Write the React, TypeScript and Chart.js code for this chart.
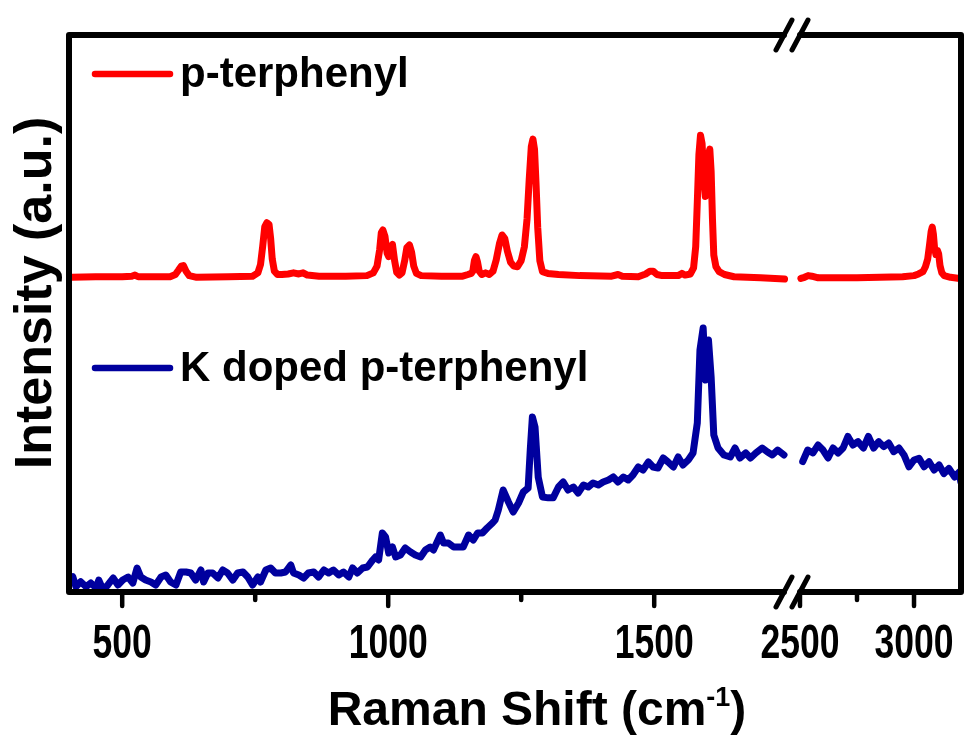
import React, { useEffect, useRef } from "react";
import { Chart, registerables } from "chart.js";

Chart.register(...registerables);

// ---------- data ----------
const SERIES_NAMES = ["p-terphenyl", "K doped p-terphenyl"];
const SERIES_COLORS = ["#FF0000", "#00009E"];

// p-terphenyl, low-wavenumber segment
const RED_LEFT_X = [405, 450, 500, 518, 524, 530, 590, 600, 606, 611, 615, 620, 626, 640, 700, 745, 755, 760, 764, 768, 772, 776, 779, 782, 786, 792, 800, 812, 822, 832, 840, 848, 870, 920, 960, 972, 979, 984, 987, 990, 994, 998, 1001, 1005, 1008, 1012, 1016, 1021, 1026, 1031, 1035, 1040, 1044, 1048, 1053, 1062, 1100, 1140, 1150, 1156, 1159, 1162, 1165, 1168, 1171, 1176, 1183, 1190, 1197, 1203, 1209, 1214, 1219, 1224, 1230, 1236, 1243, 1250, 1256, 1261, 1265, 1269, 1272, 1275, 1278, 1281, 1285, 1290, 1300, 1320, 1360, 1420, 1432, 1440, 1470, 1484, 1492, 1498, 1505, 1515, 1545, 1552, 1558, 1568, 1574, 1578, 1581, 1584, 1587, 1590, 1593, 1596, 1599, 1602, 1604.5, 1607, 1609.5, 1612, 1616, 1622, 1632, 1650, 1700, 1745];
const RED_LEFT_Y = [56.5, 56.6, 56.6, 56.7, 56.9, 56.6, 56.6, 57.0, 57.8, 58.5, 58.6, 57.6, 56.8, 56.5, 56.6, 56.7, 57.3, 58.8, 62.0, 65.6, 66.3, 66.0, 63.5, 59.8, 57.6, 57.0, 57.0, 57.1, 57.3, 57.1, 57.3, 56.9, 56.7, 56.7, 56.8, 57.3, 58.5, 61.5, 64.5, 65.0, 63.8, 60.8, 60.2, 62.0, 62.4, 59.5, 57.4, 56.9, 57.3, 59.5, 61.8, 62.3, 61.0, 58.5, 57.2, 56.8, 56.7, 56.7, 57.0, 57.2, 57.6, 59.5, 60.2, 59.2, 57.6, 57.0, 57.3, 57.0, 57.6, 59.6, 62.5, 64.1, 63.5, 61.2, 59.2, 58.5, 58.4, 59.5, 62.0, 67.0, 74.0, 80.0, 81.3, 79.5, 73.0, 65.5, 59.5, 57.5, 57.2, 57.0, 56.8, 56.7, 57.0, 56.7, 56.6, 57.1, 57.6, 57.6, 57.0, 56.8, 56.8, 57.2, 56.9, 57.1, 58.2, 62.0, 70.0, 78.5, 82.0, 80.5, 74.5, 71.0, 74.0, 78.5, 79.5, 75.5, 67.0, 60.5, 58.4, 57.5, 57.0, 56.6, 56.4, 56.2];

// p-terphenyl, high-wavenumber segment
const RED_RIGHT_X = [2504, 2520, 2536, 2552, 2580, 2650, 2750, 2850, 2950, 3000, 3020, 3039, 3050, 3060, 3068, 3075, 3080, 3085, 3090, 3096, 3103, 3108, 3114, 3122, 3132, 3160, 3200];
const RED_RIGHT_Y = [56.3, 56.5, 56.8, 56.7, 56.4, 56.4, 56.4, 56.5, 56.6, 56.8, 57.1, 57.5, 58.4, 59.8, 62.3, 64.7, 65.5, 64.2, 61.8, 60.6, 61.3, 60.7, 58.6, 57.3, 56.8, 56.5, 56.3];

// K doped p-terphenyl, low-wavenumber segment
const BLUE_LEFT_X = [407, 413, 422, 432, 441, 451, 456, 464, 473, 483, 492, 501, 511, 520, 528, 535, 544, 554, 563, 573, 582, 591, 601, 610, 620, 629, 638, 648, 653, 661, 670, 680, 689, 698, 708, 717, 727, 736, 745, 755, 760, 770, 779, 788, 798, 807, 817, 822, 832, 841, 850, 860, 869, 879, 888, 897, 907, 916, 926, 933, 942, 952, 961, 971, 976, 982, 989, 995, 1001, 1008, 1014, 1023, 1032, 1042, 1051, 1061, 1070, 1079, 1085, 1098, 1104, 1113, 1123, 1132, 1141, 1151, 1160, 1168, 1177, 1186, 1196, 1201, 1207, 1216, 1226, 1235, 1245, 1254, 1263, 1267, 1271, 1276, 1282, 1290, 1301, 1310, 1320, 1329, 1338, 1348, 1357, 1367, 1376, 1385, 1395, 1404, 1414, 1423, 1432, 1442, 1451, 1460, 1470, 1479, 1489, 1498, 1507, 1517, 1526, 1536, 1545, 1554, 1564, 1573, 1581, 1586, 1592, 1596.5, 1602, 1607, 1612, 1620, 1631, 1643, 1652, 1661, 1672, 1681, 1691, 1703, 1713, 1722, 1732, 1744];
const BLUE_LEFT_Y = [2.75, 0.95, 1.85, 0.95, 1.62, 0.72, 2.15, 0.36, 1.26, 2.51, 1.26, 2.15, 2.69, 1.62, 4.31, 2.69, 2.15, 1.8, 1.26, 2.69, 3.05, 1.8, 1.26, 3.59, 3.59, 3.41, 2.15, 3.95, 1.8, 3.41, 3.41, 2.51, 3.95, 3.41, 2.15, 3.41, 3.59, 2.69, 1.26, 2.69, 1.8, 3.95, 4.31, 3.41, 3.41, 3.59, 4.85, 3.41, 3.05, 2.51, 3.41, 3.59, 2.69, 3.95, 3.41, 3.95, 3.05, 3.59, 2.69, 4.31, 3.41, 4.31, 4.49, 5.75, 6.28, 5.75, 10.59, 9.87, 7.0, 8.08, 6.28, 6.64, 7.9, 7.18, 6.64, 6.28, 7.54, 8.08, 7.54, 10.23, 8.8, 8.8, 8.08, 8.08, 8.08, 10.23, 9.34, 10.59, 10.59, 11.49, 12.39, 12.93, 14.72, 18.31, 16.16, 14.36, 15.98, 17.95, 18.67, 25.5, 31.42, 29.6, 20.6, 17.06, 16.9, 16.9, 18.85, 19.75, 18.31, 18.85, 17.77, 19.21, 18.85, 19.57, 19.21, 19.75, 20.11, 20.65, 19.75, 20.65, 20.11, 21.01, 22.44, 21.9, 23.34, 22.44, 22.26, 24.06, 23.34, 22.44, 24.24, 22.8, 23.7, 24.96, 30.34, 43.45, 47.4, 38.06, 45.24, 38.6, 28.19, 25.85, 24.6, 24.24, 25.85, 24.06, 24.96, 24.06, 24.96, 25.85, 25.13, 24.6, 25.49, 24.6];

// K doped p-terphenyl, high-wavenumber segment
const BLUE_RIGHT_X = [2512, 2534, 2557, 2579, 2601, 2623, 2645, 2667, 2689, 2710, 2732, 2754, 2778, 2800, 2823, 2845, 2867, 2889, 2911, 2934, 2956, 2978, 3000, 3022, 3044, 3066, 3088, 3110, 3131, 3153, 3178, 3199, 3205];
const BLUE_RIGHT_Y = [23.43, 25.49, 24.96, 26.39, 25.49, 24.06, 25.85, 24.96, 25.85, 27.92, 26.39, 27.0, 25.85, 27.92, 25.85, 27.0, 26.1, 26.75, 25.19, 25.85, 24.6, 22.48, 23.7, 23.99, 22.48, 23.38, 21.9, 22.8, 21.26, 22.17, 20.65, 21.54, 19.8];

// axes
const LEFT_RANGE = [400, 1759];
const RIGHT_RANGE = [2465, 3206];
const LEFT_MAJOR = [500, 1000, 1500];
const LEFT_MINOR = [750, 1250];
const RIGHT_MAJOR = [2500, 3000];
const RIGHT_MINOR = [2750];
const Y_RANGE = [0, 100];
const X_TITLE_MAIN = "Raman Shift (cm";
const X_TITLE_SUP = "-1";
const X_TITLE_END = ")";
const Y_TITLE = "Intensity (a.u.)";

const FONT = "'Liberation Sans', Arial, Helvetica, sans-serif";

const zip = (xs: number[], ys: number[]) => xs.map((x, i) => ({ x, y: ys[i] }));

const framePlugin = {
  id: "brokenFrame",
  afterDatasetsDraw(chart: any) {
    const { ctx, chartArea } = chart;
    const { left, right, top, bottom } = chartArea;
    const x1 = chart.scales.x1;
    const x2 = chart.scales.x2;
    const bx = x1.right;
    const g = 8;
    ctx.save();
    ctx.strokeStyle = "#000";
    ctx.lineJoin = "round";
    ctx.lineCap = "round";
    ctx.lineWidth = 6;
    ctx.beginPath();
    ctx.moveTo(bx - g, top);
    ctx.lineTo(left, top);
    ctx.lineTo(left, bottom);
    ctx.lineTo(bx - g, bottom);
    ctx.moveTo(bx + g, top);
    ctx.lineTo(right, top);
    ctx.lineTo(right, bottom);
    ctx.lineTo(bx + g, bottom);
    ctx.stroke();
    // ticks
    ctx.lineWidth = 4.5;
    const drawTicks = (scale: any, vals: number[], len: number) => {
      vals.forEach((v) => {
        const px = scale.getPixelForValue(v);
        ctx.beginPath();
        ctx.moveTo(px, bottom);
        ctx.lineTo(px, bottom + len);
        ctx.stroke();
      });
    };
    drawTicks(x1, LEFT_MAJOR, 14);
    drawTicks(x1, LEFT_MINOR, 8);
    drawTicks(x2, RIGHT_MAJOR, 14);
    drawTicks(x2, RIGHT_MINOR, 8);
    // break marks
    ctx.lineWidth = 5;
    [top, bottom].forEach((y) => {
      [-g, g].forEach((dx) => {
        ctx.beginPath();
        ctx.moveTo(bx + dx - 8, y + 15);
        ctx.lineTo(bx + dx + 8, y - 15);
        ctx.stroke();
      });
    });
    // tick labels (condensed, as in the original figure)
    ctx.fillStyle = "#000";
    ctx.font = `bold 48px ${FONT}`;
    ctx.textAlign = "center";
    ctx.textBaseline = "alphabetic";
    const drawLabels = (scale: any, vals: number[]) => {
      vals.forEach((v) => {
        const px = scale.getPixelForValue(v);
        ctx.save();
        ctx.translate(px, bottom + 66);
        ctx.scale(0.74, 1);
        ctx.fillText(String(v), 0, 0);
        ctx.restore();
      });
    };
    drawLabels(x1, LEFT_MAJOR);
    drawLabels(x2, RIGHT_MAJOR);
    ctx.restore();
  },
};

const textPlugin = {
  id: "inlineText",
  afterDraw(chart: any) {
    const { ctx, chartArea } = chart;
    const items = [
      { y: 74, name: SERIES_NAMES[0], color: SERIES_COLORS[0] },
      { y: 368, name: SERIES_NAMES[1], color: SERIES_COLORS[1] },
    ];
    ctx.save();
    items.forEach((it) => {
      ctx.strokeStyle = it.color;
      ctx.lineWidth = 6.5;
      ctx.lineCap = "round";
      ctx.beginPath();
      ctx.moveTo(chartArea.left + 26, it.y);
      ctx.lineTo(chartArea.left + 101, it.y);
      ctx.stroke();
      ctx.fillStyle = "#000";
      ctx.font = `bold 42px ${FONT}`;
      ctx.textAlign = "left";
      ctx.textBaseline = "middle";
      ctx.fillText(it.name, chartArea.left + 111, it.y + 1);
    });
    // y axis title
    ctx.save();
    ctx.translate(37, 293);
    ctx.rotate(-Math.PI / 2);
    ctx.font = `bold 52px ${FONT}`;
    ctx.textAlign = "center";
    ctx.textBaseline = "middle";
    ctx.fillStyle = "#000";
    ctx.fillText(Y_TITLE, 0, 0);
    ctx.restore();
    // x axis title with superscript
    const cx = 537;
    const baseY = 725;
    ctx.font = `bold 48px ${FONT}`;
    const w1 = ctx.measureText(X_TITLE_MAIN).width;
    const w3 = ctx.measureText(X_TITLE_END).width;
    ctx.font = `bold 27px ${FONT}`;
    const w2 = ctx.measureText(X_TITLE_SUP).width;
    let x = cx - (w1 + w2 + w3) / 2;
    ctx.textAlign = "left";
    ctx.textBaseline = "alphabetic";
    ctx.fillStyle = "#000";
    ctx.font = `bold 48px ${FONT}`;
    ctx.fillText(X_TITLE_MAIN, x, baseY);
    x += w1;
    ctx.font = `bold 27px ${FONT}`;
    ctx.fillText(X_TITLE_SUP, x, baseY - 19);
    x += w2;
    ctx.font = `bold 48px ${FONT}`;
    ctx.fillText(X_TITLE_END, x, baseY);
    ctx.restore();
  },
};

export default function App() {
  const ref = useRef<HTMLCanvasElement | null>(null);
  useEffect(() => {
    if (!ref.current) return;
    const common = {
      borderWidth: 7,
      pointRadius: 0,
      tension: 0,
      fill: false,
      borderJoinStyle: "round" as const,
      borderCapStyle: "round" as const,
      yAxisID: "y",
    };
    const xScale = (range: number[], majors: number[], weight: number) => ({
      type: "linear" as const,
      position: "bottom" as const,
      stack: "xbreak",
      stackWeight: weight,
      min: range[0],
      max: range[1],
      afterBuildTicks: (s: any) => {
        s.ticks = majors.map((v) => ({ value: v }));
      },
      afterFit: (s: any) => {
        s.paddingLeft = 0;
        s.paddingRight = 0;
      },
      grid: { display: false, drawTicks: false },
      border: { display: false },
      ticks: { display: false },
    });
    const chart = new Chart(ref.current, {
      type: "line",
      data: {
        datasets: [
          { ...common, label: SERIES_NAMES[0], data: zip(RED_LEFT_X, RED_LEFT_Y), xAxisID: "x1", borderColor: SERIES_COLORS[0] },
          { ...common, label: SERIES_NAMES[0], data: zip(RED_RIGHT_X, RED_RIGHT_Y), xAxisID: "x2", borderColor: SERIES_COLORS[0] },
          { ...common, label: SERIES_NAMES[1], data: zip(BLUE_LEFT_X, BLUE_LEFT_Y), xAxisID: "x1", borderColor: SERIES_COLORS[1] },
          { ...common, label: SERIES_NAMES[1], data: zip(BLUE_RIGHT_X, BLUE_RIGHT_Y), xAxisID: "x2", borderColor: SERIES_COLORS[1] },
        ],
      },
      options: {
        animation: false,
        responsive: false,
        devicePixelRatio: 1,
        layout: { padding: { top: 35, right: 10, bottom: 146, left: 69 } },
        plugins: { legend: { display: false }, tooltip: { enabled: false } },
        scales: {
          x1: xScale(LEFT_RANGE, LEFT_MAJOR, 723),
          x2: xScale(RIGHT_RANGE, RIGHT_MAJOR, 169),
          y: {
            type: "linear",
            position: "left",
            display: false,
            min: Y_RANGE[0],
            max: Y_RANGE[1],
          },
        },
      } as any,
      plugins: [framePlugin, textPlugin],
    });
    return () => chart.destroy();
  }, []);
  return (
    <div style={{ position: "fixed", left: 0, top: 0, width: 971, height: 738, background: "#fff" }}>
      <canvas ref={ref} width={971} height={738} style={{ display: "block" }} />
    </div>
  );
}
